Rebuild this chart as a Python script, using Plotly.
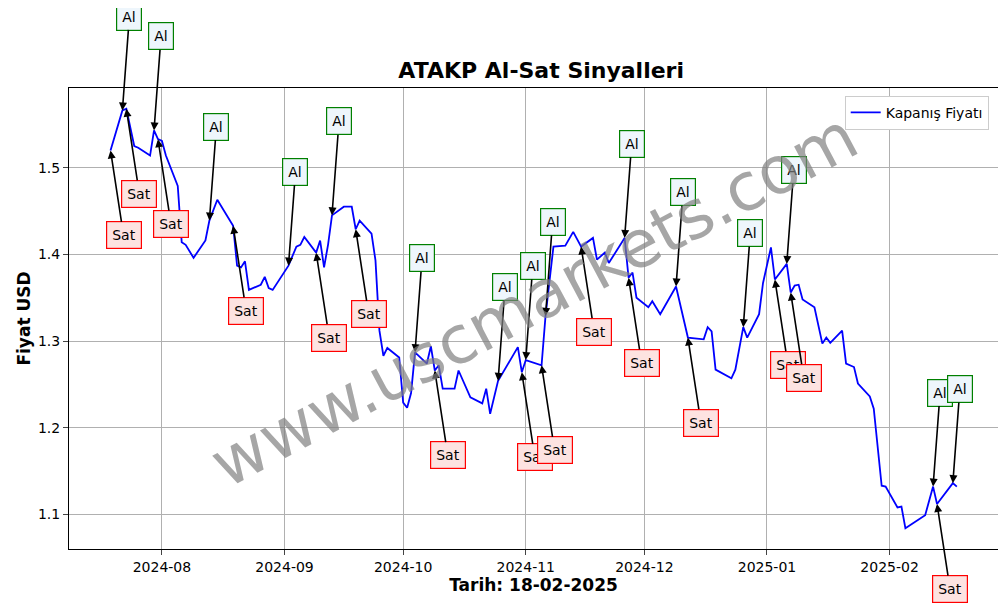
import plotly.graph_objects as go

dates = ["2024-07-19", "2024-07-22", "2024-07-23", "2024-07-25", "2024-07-26", "2024-07-29", "2024-07-30",
         "2024-07-31", "2024-08-01", "2024-08-02", "2024-08-05", "2024-08-06", "2024-08-07", "2024-08-09",
         "2024-08-12", "2024-08-13", "2024-08-15", "2024-08-19", "2024-08-20", "2024-08-21", "2024-08-22",
         "2024-08-23", "2024-08-26", "2024-08-27", "2024-08-28", "2024-08-29", "2024-09-02", "2024-09-04",
         "2024-09-05", "2024-09-06", "2024-09-09", "2024-09-10", "2024-09-11", "2024-09-12", "2024-09-13",
         "2024-09-16", "2024-09-18", "2024-09-19", "2024-09-20", "2024-09-23", "2024-09-24", "2024-09-25",
         "2024-09-26", "2024-09-27", "2024-09-30", "2024-10-01", "2024-10-02", "2024-10-03", "2024-10-04",
         "2024-10-07", "2024-10-08", "2024-10-09", "2024-10-10", "2024-10-11", "2024-10-14", "2024-10-15",
         "2024-10-18", "2024-10-21", "2024-10-22", "2024-10-23", "2024-10-25", "2024-10-30", "2024-10-31",
         "2024-11-01", "2024-11-05", "2024-11-06", "2024-11-08", "2024-11-11", "2024-11-13", "2024-11-15",
         "2024-11-18", "2024-11-19", "2024-11-21", "2024-11-22", "2024-11-26", "2024-11-27", "2024-11-28",
         "2024-11-29", "2024-12-02", "2024-12-03", "2024-12-05", "2024-12-09", "2024-12-12", "2024-12-16",
         "2024-12-17", "2024-12-18", "2024-12-19", "2024-12-23", "2024-12-24", "2024-12-26", "2024-12-27",
         "2024-12-30", "2024-12-31", "2025-01-02", "2025-01-03", "2025-01-06", "2025-01-07", "2025-01-08",
         "2025-01-09", "2025-01-10", "2025-01-13", "2025-01-15", "2025-01-16", "2025-01-17", "2025-01-20",
         "2025-01-21", "2025-01-23", "2025-01-24", "2025-01-27", "2025-01-28", "2025-01-30", "2025-01-31",
         "2025-02-03", "2025-02-04", "2025-02-05", "2025-02-07", "2025-02-10", "2025-02-12", "2025-02-13",
         "2025-02-17", "2025-02-18"]
prices = [1.520, 1.566, 1.568, 1.525, 1.523, 1.514, 1.543,
          1.533, 1.531, 1.514, 1.479, 1.414, 1.411, 1.396,
          1.416, 1.439, 1.463, 1.433, 1.387, 1.385, 1.392,
          1.359, 1.365, 1.374, 1.361, 1.359, 1.387, 1.409,
          1.411, 1.420, 1.402, 1.416, 1.385, 1.411, 1.445,
          1.455, 1.455, 1.429, 1.439, 1.424, 1.393, 1.312,
          1.283, 1.292, 1.281, 1.229, 1.223, 1.240, 1.287,
          1.274, 1.294, 1.266, 1.272, 1.245, 1.245, 1.266,
          1.235, 1.228, 1.245, 1.216, 1.254, 1.293, 1.264,
          1.278, 1.272, 1.329, 1.409, 1.410, 1.426, 1.409,
          1.419, 1.394, 1.402, 1.390, 1.419, 1.373, 1.379,
          1.350, 1.339, 1.346, 1.331, 1.363, 1.304, 1.302,
          1.316, 1.311, 1.267, 1.257, 1.267, 1.316, 1.304,
          1.331, 1.367, 1.408, 1.371, 1.389, 1.356, 1.364,
          1.365, 1.348, 1.339, 1.297, 1.304, 1.298, 1.312,
          1.274, 1.270, 1.251, 1.236, 1.222, 1.133, 1.132,
          1.108, 1.109, 1.084, 1.090, 1.099, 1.132, 1.112,
          1.136, 1.132]

al_dates = ["2024-07-22", "2024-07-30", "2024-08-13", "2024-09-02", "2024-09-13", "2024-10-04", "2024-10-25",
            "2024-11-01", "2024-11-06", "2024-11-26", "2024-12-09", "2024-12-26", "2025-01-06", "2025-02-12",
            "2025-02-17"]
sat_dates = ["2024-07-19", "2024-07-23", "2024-07-31", "2024-08-19", "2024-09-09", "2024-09-19", "2024-10-09",
             "2024-10-31", "2024-11-05", "2024-11-15", "2024-11-27", "2024-12-12", "2025-01-03", "2025-01-07",
             "2025-02-13"]

price_of = dict(zip(dates, prices))

fig = go.Figure()
fig.add_trace(go.Scatter(x=dates, y=prices, mode="lines", name="Kapanış Fiyatı",
                         line=dict(color="blue", width=1.8)))

# sinyal etiketleri
for d in al_dates:
    fig.add_annotation(x=d, y=price_of[d], text="Al", showarrow=True, arrowhead=2, arrowsize=1,
                       arrowwidth=1.6, arrowcolor="black", ax=7, ay=-94,
                       bgcolor="#eef6fc", bordercolor="green", borderwidth=1.2, borderpad=5,
                       font=dict(size=14, color="black"))
for d in sat_dates:
    fig.add_annotation(x=d, y=price_of[d], text="Sat", showarrow=True, arrowhead=2, arrowsize=1,
                       arrowwidth=1.6, arrowcolor="black", ax=13, ay=85,
                       bgcolor="#fde3e1", bordercolor="red", borderwidth=1.2, borderpad=5,
                       font=dict(size=14, color="black"))

# watermark
fig.add_annotation(x=0.5, y=0.54, xref="paper", yref="paper", text="www.uscmarkets.com", showarrow=False,
                   textangle=-28, font=dict(size=66, color="rgba(128,128,128,0.7)"))

fig.update_layout(
    width=1006, height=609,
    paper_bgcolor="white", plot_bgcolor="white",
    margin=dict(l=61, r=16, t=80, b=68, autoexpand=False),
    font=dict(family="DejaVu Sans", size=14, color="black"),
    title=dict(text="<b>ATAKP Al-Sat Sinyalleri</b>", x=0.53, xanchor="center", y=0.898, yanchor="middle",
               font=dict(size=22)),
    showlegend=True,
    legend=dict(x=0.99, y=0.983, xanchor="right", yanchor="top", bgcolor="white",
                bordercolor="#cccccc", borderwidth=1, font=dict(size=14)),
)
fig.update_xaxes(range=["2024-07-08 12:00", "2025-02-28 10:00"], showgrid=True, gridcolor="#b0b0b0",
                 tickformat="%Y-%m", dtick="M1", ticks="outside", showline=True, linecolor="black",
                 mirror=True, automargin=False, title=dict(text="<b>Tarih: 18-02-2025</b>", standoff=2),
                 tickfont=dict(size=14))
fig.update_yaxes(range=[1.06, 1.592], showgrid=True, gridcolor="#b0b0b0", dtick=0.1, tickformat=".1f",
                 ticks="outside", showline=True, linecolor="black", mirror=True, automargin=False,
                 title=dict(text="<b>Fiyat USD</b>", standoff=2), tickfont=dict(size=14))

fig.write_html("out.html")
